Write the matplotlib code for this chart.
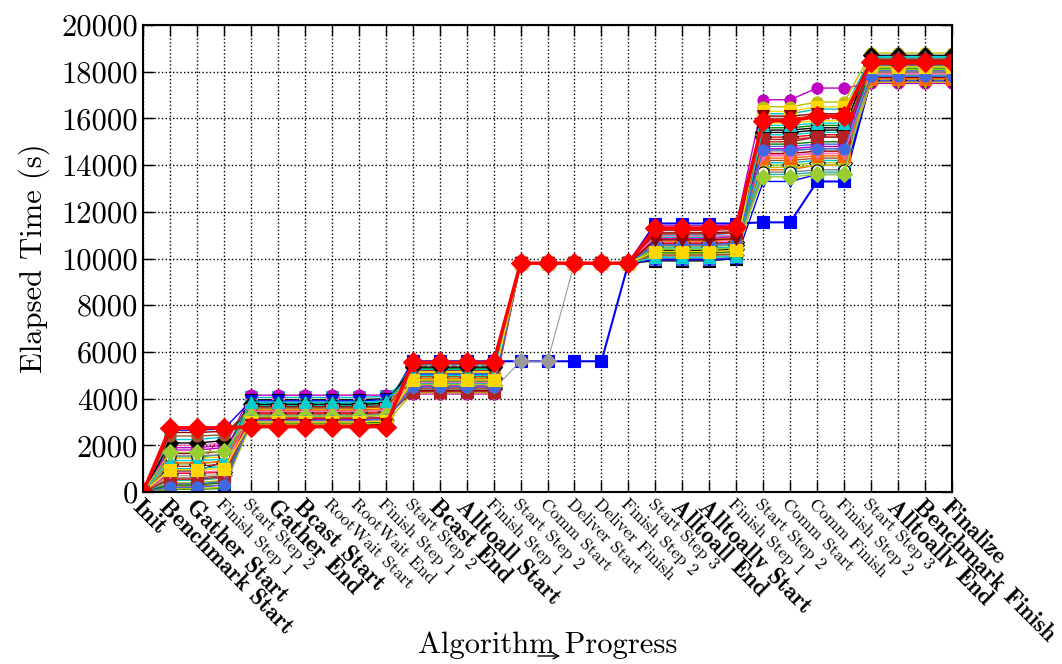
import matplotlib
matplotlib.use('Agg')
import matplotlib.pyplot as plt

plt.rcParams['font.family'] = 'cmr10'
plt.rcParams['mathtext.fontset'] = 'cm'
plt.rcParams['axes.unicode_minus'] = False

labels = ['Init', 'Benchmark Start', 'Gather Start', 'Finish Step 1', 'Start Step 2',
          'Gather End', 'Bcast Start', 'RootWait Start', 'RootWait End', 'Finish Step 1',
          'Start Step 2', 'Bcast End', 'Alltoall Start', 'Finish Step 1', 'Start Step 2',
          'Comm Start', 'Deliver Start', 'Deliver Finish', 'Finish Step 2', 'Start Step 3',
          'Alltoall End', 'Alltoallv Start', 'Finish Step 1', 'Start Step 2', 'Comm Start',
          'Comm Finish', 'Finish Step 2', 'Start Step 3', 'Alltoallv End',
          'Benchmark Finish', 'Finalize']
bold_labels = ['Init', 'Benchmark Start', 'Gather Start', 'Gather End', 'Bcast Start',
               'Bcast End', 'Alltoall Start', 'Alltoall End', 'Alltoallv Start',
               'Alltoallv End', 'Benchmark Finish', 'Finalize']

# elapsed time (s) per process at each phase of the run
init = [0] * 36
bench = [0, 120, 1000, 1500, 1800, 400, 900, 250, 600, 700, 1100, 2000,
         2250, 1200, 350, 1450, 1650, 500, 2650, 300, 800, 1000, 1900, 150,
         2100, 1250, 2400, 1550, 550, 850, 1350, 1700, 200, 950, 2550, 2750]
step1 = [0, 150, 2600, 1600, 1900, 500, 1300, 300, 700, 750, 1200, 2100,
         2350, 1300, 450, 1500, 1750, 600, 2700, 400, 850, 1100, 2000, 200,
         2200, 1300, 2450, 1600, 650, 900, 1400, 1750, 300, 1000, 2600, 2750]
gather = [3500, 3600, 3300, 4050, 4150, 3750, 3950, 3200, 3150, 3050, 3400, 3850,
          3700, 3450, 3000, 3550, 3650, 3250, 3900, 2950, 3350, 3800, 3100, 2900,
          3750, 3500, 3600, 3300, 3150, 3450, 3850, 3250, 3050, 3000, 2850, 2800]
gather_fin = [3550, 3650, 3400, 4100, 4150, 3800, 4000, 3300, 3200, 3100, 3450, 3900,
              3750, 3500, 3100, 3600, 3700, 3300, 3950, 3000, 3400, 3850, 3150, 2950,
              3800, 3550, 3650, 3350, 3200, 3500, 3900, 3300, 3100, 3050, 2900, 2800]
bcast = [5600, 5300, 5400, 5000, 4200, 5100, 4800, 4500, 4600, 4400, 5200, 4300,
         5450, 4900, 4700, 5150, 4350, 4650, 5050, 4750, 4450, 5250, 4550, 4250,
         5350, 4850, 4950, 4400, 4300, 4700, 5000, 4600, 4500, 4800, 5500, 5550]
comm = [5600] + [9800] * 8 + [5600] + [9800] * 26
deliver = [5600] + [9800] * 35
step2 = [9800] * 36
a2a = [11500, 10600, 11300, 10900, 11400, 10200, 9900, 10100, 10300, 10100, 11200, 10700,
       11000, 10500, 10000, 10800, 11100, 10400, 9950, 10250, 10650, 10450, 10850, 10050,
       10350, 10750, 10150, 10550, 11050, 10950, 10050, 10400, 10600, 10300, 10800, 11300]
a2av_f1 = [11500, 10700, 11350, 11000, 11450, 10300, 10000, 10200, 10400, 10150, 11250, 10800,
           11100, 10600, 10050, 10900, 11150, 10500, 10000, 10300, 10700, 10500, 10950, 10100,
           10400, 10850, 10200, 10600, 11100, 11000, 10100, 10450, 10650, 10350, 10850, 11350]
a2av = [11550, 15600, 15900, 16200, 16800, 16500, 15500, 13800, 14200, 14600, 15000, 14400,
        15300, 14000, 14800, 15800, 14500, 13600, 13300, 14900, 15200, 14100, 14700, 13900,
        15400, 14300, 16000, 13700, 15100, 14450, 15700, 13500, 14650, 16300, 16100, 15900]
a2av_fin = [13300, 15700, 16000, 16400, 17300, 16700, 15600, 14000, 14300, 14700, 15200, 14500,
            15400, 14100, 14900, 15900, 14600, 13700, 13600, 15000, 15300, 14200, 14800, 14000,
            15500, 14400, 16100, 13800, 15200, 14500, 15800, 13600, 14700, 16500, 16200, 16100]
final = [17700, 18200, 18300, 18600, 17500, 18800, 17800, 17800, 17950, 17900, 18400, 18000,
         18100, 17650, 18050, 18500, 17750, 18250, 17600, 18150, 18350, 17850, 18450, 17550,
         18700, 17700, 18550, 18000, 18300, 17900, 18650, 18100, 17800, 18200, 18500, 18400]

phases = [(init, 1), (bench, 2), (step1, 1), (gather, 5), (gather_fin, 1), (bcast, 4),
          (comm, 2), (deliver, 2), (step2, 1), (a2a, 3), (a2av_f1, 1), (a2av, 2),
          (a2av_fin, 2), (final, 4)]

colors = ['b', 'g', 'r', 'c', 'm', 'y', 'k', '#ff6600', '#a0522d', 'gray', '#b22222',
          '#ff69b4', '#00ced1', '#9acd32', '#4169e1', '#ffd700', '#8b0000', '#20b2aa']
markers = ['s', 'v', 'D', 's', 'o', 'o', 's', 'v', '^', 'D', 'o']

fig = plt.figure(figsize=(10.62, 6.64), dpi=100)
ax = fig.add_axes([0.1347, 0.259, 0.7617, 0.7033])

x = list(range(len(labels)))
n = len(bench)
for i in range(n):
    y = []
    for arr, cnt in phases:
        y += [arr[i]] * cnt
    c = colors[i % len(colors)]
    m = markers[i % len(markers)]
    lw = 1
    ls = '-'
    ms = 8
    if i == n - 1:
        c, m, lw, ms = 'r', 'D', 2.5, 10
    elif i == 0:
        lw = 1.5
    elif i == 9:
        lw = 0.8
        c = '#999999'
    elif i == 2:
        ls = '--'
    mfc = 'w' if i in (13, 20, 27) else c
    ax.plot(x, y, color=c, marker=m, markersize=ms, linewidth=lw, linestyle=ls,
            markerfacecolor=mfc, markeredgecolor=c if mfc != 'w' else 'k',
            markeredgewidth=0.8)

ax.set_xlim(0, 30)
ax.set_ylim(0, 20000)
ax.set_yticks(range(0, 20001, 2000))
ax.tick_params(axis='y', labelsize=22)
ax.tick_params(direction='in', length=8, top=True, right=True, width=1)
ax.set_axisbelow(True)
ax.grid(True, linestyle=':', color='k', linewidth=1)
for s in ax.spines.values():
    s.set_linewidth(1.5)

ax.set_xticks(x)
ax.set_xticklabels(labels, rotation=-45, ha='left', va='top', rotation_mode='anchor')
for t in ax.get_xticklabels():
    if t.get_text() in bold_labels:
        t.set_fontfamily('cmb10')
        t.set_fontsize(17)
    else:
        t.set_fontsize(12.5)
ax.tick_params(axis='x', pad=3)

ax.set_ylabel('Elapsed Time (s)', fontsize=22, labelpad=8)
fig.text(548 / 1062, 1 - 645 / 664, 'Algorithm Progress', fontsize=22,
         ha='center', va='center')
# the little arrow under the x label
ax.annotate('', xy=(563, 8), xytext=(535, 8), xycoords='figure pixels',
            textcoords='figure pixels', annotation_clip=False,
            arrowprops=dict(arrowstyle='->', lw=1, color='k'))

fig.savefig('out.png', dpi=100)
